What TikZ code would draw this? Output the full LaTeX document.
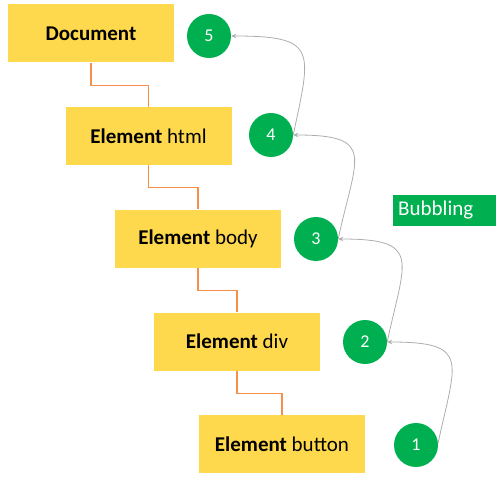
\documentclass[tikz,border=0pt]{standalone}
\usepackage{fontspec}
\setmainfont{Carlito}
\usetikzlibrary{arrows.meta}
\definecolor{boxyellow}{HTML}{FFD94D}
\definecolor{conorange}{HTML}{F4904A}
\definecolor{bubgreen}{HTML}{00B050}
\definecolor{arrgray}{HTML}{ADADAD}
\tikzset{
  ybox/.style={rectangle, fill=boxyellow, minimum width=166pt, minimum height=58pt, inner sep=0pt, font=\fontsize{21}{25}\selectfont},
  gcirc/.style={circle, fill=bubgreen, minimum size=44pt, inner sep=0pt, text=white, font=\fontsize{18}{22}\selectfont},
  conn/.style={draw=conorange, line width=1.1pt},
  bub/.style={draw=arrgray, line width=0.8pt, -{Stealth[length=5pt,width=4.5pt]}},
  tag/.style={rectangle, fill=bubgreen, text=white, anchor=west, text width=93pt, minimum height=31pt, inner xsep=5pt, inner ysep=0pt, align=left, font=\fontsize{21}{25}\selectfont}
}
\begin{document}
\begin{tikzpicture}[x=1pt,y=1pt]
\useasboundingbox (0,0) rectangle (503,480);
\node[ybox] (doc) at (91,446.5) {\raisebox{-1.5pt}{\textbf{Document}}};
\node[ybox] (html) at (148.5,344) {\raisebox{-1.5pt}{\textbf{Element} html}};
\node[ybox] (body) at (198,241.5) {\raisebox{-1.5pt}{\textbf{Element} body}};
\node[ybox] (div) at (237,138.5) {\raisebox{-1.5pt}{\textbf{Element} div}};
\node[ybox] (button) at (282,36) {\raisebox{-1.5pt}{\textbf{Element} button}};
\node[gcirc] (c5) at (209,444) {5};
\node[gcirc] (c4) at (271,345) {4};
\node[gcirc] (c3) at (316,241) {3};
\node[gcirc] (c2) at (365,138) {2};
\node[gcirc] (c1) at (416,35) {1};
\node[tag] (bubbling) at (393,269.5) {Bubbling};
\draw[conn] (doc.south) -- ++(0,-22.5) -| (html.north);
\draw[conn] (html.south) -- ++(0,-22.5) -| (body.north);
\draw[conn] (body.south) -- ++(0,-22.5) -| (div.north);
\draw[conn] (div.south) -- ++(0,-22.5) -| (button.north);
\draw[bub] (c1.5) to[out=78,in=0,looseness=1.9] (c2.east);
\draw[bub] (c2.east) to[out=78,in=0,looseness=1.9] (c3.east);
\draw[bub] (c3.east) to[out=78,in=0,looseness=1.9] (c4.east);
\draw[bub] (c4.east) to[out=78,in=0,looseness=1.9] (c5.east);
\end{tikzpicture}
\end{document}
